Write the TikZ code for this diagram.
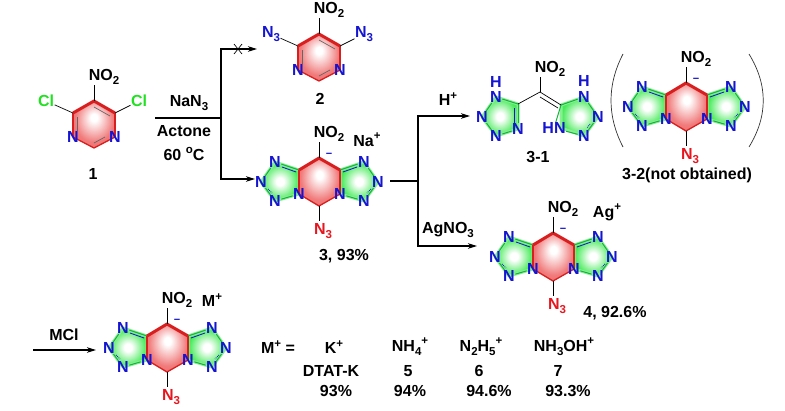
\documentclass[tikz,border=0pt]{standalone}
\usepackage{fontspec}
\setmainfont{Liberation Sans}
\usetikzlibrary{arrows.meta,backgrounds}

\definecolor{atomblue}{HTML}{1414D2}
\definecolor{azidered}{HTML}{E8141E}
\definecolor{clgreen}{HTML}{22E022}
\definecolor{ringred}{HTML}{D81E1E}
\definecolor{ringfill}{HTML}{EE6464}
\definecolor{tetfill}{HTML}{46EA58}
\definecolor{tetline}{HTML}{18B040}

\pgfdeclareradialshading{redglow}{\pgfpoint{0bp}{8bp}}{color(0bp)=(white); color(4bp)=(white); color(23bp)=(ringfill!85!white); color(36bp)=(ringfill); color(50bp)=(ringfill)}
\pgfdeclareradialshading{greenglow}{\pgfpoint{0bp}{0bp}}{color(0bp)=(white); color(5bp)=(white); color(24bp)=(tetfill); color(50bp)=(tetfill)}

\newcommand{\chemsub}[1]{\raisebox{-.28em}{\fontsize{11.5}{12}\selectfont #1}}
\newcommand{\chemsup}[1]{\raisebox{.42em}{\fontsize{11.5}{12}\selectfont #1}}

\tikzset{
    label/.style={inner sep=0pt, font=\fontsize{16}{18}\selectfont\bfseries, text=black},
    atom/.style={inner sep=.4pt, font=\fontsize{16}{18}\selectfont\bfseries, text=atomblue},
    azide/.style={atom, text=azidered},
    chloro/.style={atom, text=clgreen},
    bond/.style={line width=.7pt, black},
    tetbond/.style={line width=1pt, tetline},
    inbond/.style={line width=.8pt, atomblue},
    rxnline/.style={line width=1.2pt, black},
    rxnarrow/.style={rxnline, -{Stealth[length=9pt,width=5.5pt,inset=2.5pt]}},
    ringtop/.style={line width=3pt, ringred, line join=round},
    ringside/.style={line width=2.2pt, ringred, line join=round},
    ringlow/.style={line width=1.3pt, ringred, line join=round},
    tetglow/.style={shading=greenglow, draw=tetfill!65, line width=3pt, line join=round},
    paren/.style={line width=.7pt, black!80},
}

% pyrimidine ring with NO2 and two side groups
\newcommand{\pyrimring}[6]{%
\begin{scope}[shift={(#2,#3)}]
    \coordinate (#1top) at (0,-24);
    \coordinate (#1ul) at (-21,-12);
    \coordinate (#1ur) at (21,-12);
    \coordinate (#1bot) at (0,23);
    \coordinate (#1nt) at (0,-40);
    \node[atom] (#1nl) at (-21,12) {N};
    \node[atom] (#1nr) at (21,12) {N};
    \node[label] (#1nitro) at (10,-48) {NO\chemsub{2}};
    \node[#6] (#1sl) at (-48,-24) {#4};
    \node[#6] (#1sr) at (45,-24) {#5};
    \begin{scope}[on background layer]
        \shade[shading=redglow] (#1top) -- (#1ur) -- (#1nr.center) -- (#1bot) -- (#1nl.center) -- (#1ul) -- cycle;
        \draw[ringtop] (#1ul) -- (#1top) -- (#1ur);
        \draw[ringside] (#1ul) -- (#1nl.center);
        \draw[ringside] (#1ur) -- (#1nr.center);
        \draw[ringlow] (#1nl.center) -- (#1bot) -- (#1nr.center);
        \draw[line width=.7pt, black!60] (-17,-8) -- (-17,6);
        \draw[line width=.7pt, black!60] (0,-18) -- (16,-9);
        \draw[line width=.7pt, black!60] (0,18) -- (11,12);
        \draw[bond] (#1top) -- (#1nt);
        \draw[bond] (#1ul) -- (#1sl);
        \draw[bond] (#1ur) -- (#1sr);
    \end{scope}
\end{scope}
}

% tricyclic anion, ring centre at (#2,#3)
\newcommand{\fusedring}[3]{%
\begin{scope}[shift={(#2,#3)}]
    \coordinate (#1top) at (0,-24);
    \coordinate (#1ul) at (-20,-12);
    \coordinate (#1ur) at (21,-12);
    \coordinate (#1bot) at (0,24);
    \coordinate (#1nt) at (0,-40);
    \coordinate (#1na) at (0,39);
    \node[atom] (#1nl) at (-20,12) {N};
    \node[atom] (#1nr) at (21,12) {N};
    \node[atom] (#1a1) at (-44,-20) {N};
    \node[atom] (#1a2) at (-58,0) {N};
    \node[atom] (#1a3) at (-44,19) {N};
    \node[atom] (#1b1) at (45,-20) {N};
    \node[atom] (#1b2) at (59,0) {N};
    \node[atom] (#1b3) at (45,19) {N};
    \node[label] (#1nitro) at (10,-48) {NO\chemsub{2}};
    \node[azide] (#1azide) at (4,49) {N\chemsub{3}};
    \node[atomblue, inner sep=0pt, font=\bfseries\fontsize{11}{11}\selectfont] (#1minus) at (10,-27) {\textminus};
    \begin{scope}[on background layer]
        \shadedraw[tetglow] (#1a1.center) -- (#1a2.center) -- (#1a3.center) -- (#1nl.center) -- (#1ul) -- cycle;
        \shadedraw[tetglow] (#1b1.center) -- (#1b2.center) -- (#1b3.center) -- (#1nr.center) -- (#1ur) -- cycle;
        \shade[shading=redglow] (#1top) -- (#1ur) -- (#1nr.center) -- (#1bot) -- (#1nl.center) -- (#1ul) -- cycle;
        \draw[tetbond] (#1ul) -- (#1a1);
        \draw[tetbond] (#1a1) -- (#1a2);
        \draw[tetbond] (#1a2) -- (#1a3);
        \draw[tetbond] (#1a3) -- (#1nl);
        \draw[tetbond] (#1ur) -- (#1b1);
        \draw[tetbond] (#1b1) -- (#1b2);
        \draw[tetbond] (#1b2) -- (#1b3);
        \draw[tetbond] (#1b3) -- (#1nr);
        \draw[inbond] (-23,-10) -- (-37,-15);
        \draw[inbond] (24,-10) -- (38,-15);
        \draw[inbond, densely dotted] (-51,7) -- (-47,11);
        \draw[inbond, densely dotted] (52,7) -- (48,11);
        \draw[ringtop] (#1ul) -- (#1top) -- (#1ur);
        \draw[ringside] (#1ul) -- (#1nl.center);
        \draw[ringside] (#1ur) -- (#1nr.center);
        \draw[ringlow] (#1nl.center) -- (#1bot) -- (#1nr.center);
        \draw[bond] (#1top) -- (#1nt);
        \draw[bond] (#1bot) -- (#1na);
    \end{scope}
\end{scope}
}

\begin{document}
\begin{tikzpicture}[x=1pt,y=-1pt]
    \useasboundingbox (0,0) rectangle (785,410);

    % Starting material and the blocked product
    \pyrimring{s}{94}{125}{Cl}{Cl}{chloro}
    \node[label] (one) at (93,174) {1};
    \pyrimring{p}{319}{58}{N\chemsub{3}}{N\chemsub{3}}{atom}
    \node[label] (two) at (320,99) {2};

    % First reaction fork
    \coordinate (forkin) at (155,118);
    \coordinate (forka) at (221,118);
    \coordinate (twoin) at (257,49);
    \coordinate (threein) at (255,179);
    \draw[rxnline] (forkin) -- (forka);
    \draw[rxnarrow] (forka) |- (twoin);
    \draw[rxnarrow] (forka) |- (threein);
    \coordinate (xa) at (234,44);
    \coordinate (xb) at (242,54);
    \coordinate (xc) at (242,44);
    \coordinate (xd) at (234,54);
    \draw[bond] (xa) -- (xb);
    \draw[bond] (xc) -- (xd);
    \node[label] (reagent) at (189,103) {NaN\chemsub{3}};
    \node[label] (solvent) at (184,131) {Actone};
    \node[label] (temp) at (184,154) {60 \chemsup{o}C};

    % Sodium salt
    \fusedring{na}{319}{182}
    \node[label] (nacat) at (367,140) {Na\chemsup{+}};
    \node[label] (three) at (344,256) {3, 93\%};

    % Second reaction fork
    \coordinate (forkout) at (390,181);
    \coordinate (forkb) at (418,181);
    \coordinate (acidin) at (470,116);
    \coordinate (agin) at (477,246);
    \draw[rxnline] (forkout) -- (forkb);
    \draw[rxnarrow] (forkb) |- (acidin);
    \draw[rxnarrow] (forkb) |- (agin);
    \node[label] (acid) at (448,99) {H\chemsup{+}};
    \node[label] (silver) at (448,230) {AgNO\chemsub{3}};

    % Neutral bis-tetrazole
    \node[atom] (lh) at (496,82) {H};
    \node[atom] (la) at (496,97) {N};
    \node[atom] (lb) at (482,117) {N};
    \node[atom] (lc) at (496,136) {N};
    \node[atom] (ld) at (518,129) {N};
    \coordinate (le) at (518,104);
    \coordinate (mid) at (540,92);
    \coordinate (midt) at (540,77);
    \node[label] (midn) at (550,69) {NO\chemsub{2}};
    \coordinate (re) at (561,105);
    \node[atom] (rh) at (584,81) {H};
    \node[atom] (ra) at (584,97) {N};
    \node[atom] (rb) at (598,117) {N};
    \node[atom] (rc) at (584,136) {N};
    \node[atom] (rd) at (554,128) {HN};
    \coordinate (rdn) at (561,128);
    \begin{scope}[on background layer]
        \shadedraw[tetglow] (la.center) -- (le) -- (ld.center) -- (lc.center) -- (lb.center) -- cycle;
        \shadedraw[tetglow] (ra.center) -- (rb.center) -- (rc.center) -- (rdn) -- (re) -- cycle;
        \draw[tetbond] (la) -- (le);
        \draw[tetbond] (le) -- (ld);
        \draw[tetbond] (ld) -- (lc);
        \draw[tetbond] (lc) -- (lb);
        \draw[tetbond] (lb) -- (la);
        \draw[tetbond] (re) -- (ra);
        \draw[tetbond] (ra) -- (rb);
        \draw[tetbond] (rb) -- (rc);
        \draw[tetbond] (rc) -- (rd);
        \draw[tetbond] (rd) -- (re);
        \draw[inbond] (514,108) -- (514,123);
        \draw[inbond, densely dotted] (590,124) -- (587,128);
        \draw[bond] (le) -- (mid);
        \draw[bond] (mid) -- (re);
        \draw[bond] (mid) -- (midt);
        \draw[bond] (540,97) -- (558,108);
    \end{scope}
    \node[label] (threeone) at (538,157) {3-1};

    % Product in brackets
    \fusedring{br}{686}{107}
    \coordinate (pla) at (623,54);
    \coordinate (plb) at (623,147);
    \coordinate (pra) at (749,54);
    \coordinate (prb) at (749,147);
    \draw[paren] (pla) .. controls (607,85) and (607,116) .. (plb);
    \draw[paren] (pra) .. controls (768,85) and (768,116) .. (prb);
    \node[label] (threetwo) at (687,175) {3-2(not obtained)};

    % Silver salt
    \fusedring{ag}{553}{257}
    \node[label] (agcat) at (607,212) {Ag\chemsup{+}};
    \node[label] (four) at (615,313) {4, 92.6\%};

    % Metathesis row
    \coordinate (mclin) at (33,350);
    \coordinate (mclout) at (96,350);
    \draw[rxnarrow] (mclin) -- (mclout);
    \node[label] (mcl) at (64,335) {MCl};
    \fusedring{mm}{167}{348}
    \node[label] (mcat) at (212,300) {M\chemsup{+}};

    % Table of cations
    \node[label] (meq) at (278,347) {M\chemsup{+} =};
    \node[label] (kcat) at (334,347) {K\chemsup{+}};
    \node[label] (ammo) at (410,347) {NH\chemsub{4}\chemsup{+}};
    \node[label] (hydra) at (481,347) {N\chemsub{2}H\chemsub{5}\chemsup{+}};
    \node[label] (hydrox) at (564,347) {NH\chemsub{3}OH\chemsup{+}};
    \node[label] (dtat) at (331,371) {DTAT-K};
    \node[label] (five) at (408,371) {5};
    \node[label] (six) at (479,371) {6};
    \node[label] (seven) at (558,371) {7};
    \node[label] (ykcat) at (336,391) {93\%};
    \node[label] (yammo) at (410,391) {94\%};
    \node[label] (yhydra) at (489,391) {94.6\%};
    \node[label] (yhydrox) at (568,391) {93.3\%};
\end{tikzpicture}
\end{document}
